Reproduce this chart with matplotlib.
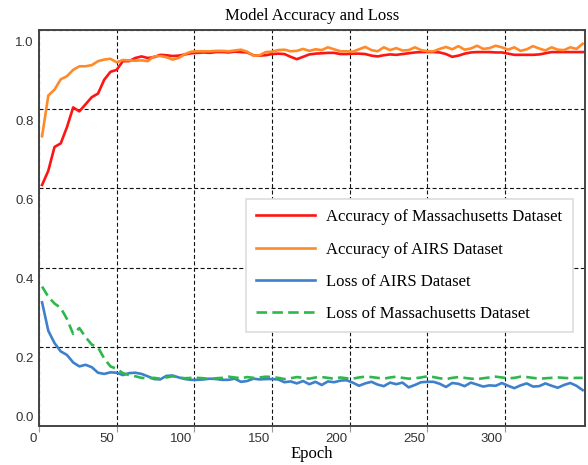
import numpy as np
import matplotlib
matplotlib.use("Agg")
import matplotlib.pyplot as plt
from matplotlib.transforms import ScaledTranslation

# values, one every 4 epochs starting at epoch 2
acc_mass = [
    0.609, 0.645, 0.705, 0.714, 0.755, 0.805, 0.795, 0.813, 0.831, 0.840,
    0.875, 0.895, 0.900, 0.922, 0.922, 0.930, 0.934, 0.930, 0.932, 0.938,
    0.937, 0.935, 0.936, 0.939, 0.942, 0.943, 0.944, 0.943, 0.945, 0.945,
    0.944, 0.946, 0.945, 0.944, 0.937, 0.936, 0.937, 0.940, 0.941, 0.940,
    0.933, 0.927, 0.933, 0.939, 0.941, 0.942, 0.943, 0.943, 0.940, 0.940,
    0.941, 0.941, 0.940, 0.936, 0.934, 0.937, 0.939, 0.938, 0.940, 0.942,
    0.944, 0.945, 0.945, 0.945, 0.944, 0.940, 0.933, 0.936, 0.941, 0.944,
    0.945, 0.945, 0.945, 0.944, 0.944, 0.941, 0.938, 0.938, 0.938, 0.938,
    0.939, 0.942, 0.945, 0.945, 0.945, 0.945, 0.945, 0.945,
]
acc_airs = [
    0.732, 0.835, 0.850, 0.876, 0.884, 0.900, 0.909, 0.909, 0.912, 0.922,
    0.926, 0.928, 0.919, 0.925, 0.924, 0.923, 0.924, 0.922, 0.934, 0.935,
    0.932, 0.926, 0.930, 0.940, 0.946, 0.947, 0.947, 0.947, 0.948, 0.948,
    0.947, 0.949, 0.951, 0.946, 0.936, 0.937, 0.945, 0.946, 0.950, 0.951,
    0.947, 0.948, 0.953, 0.948, 0.952, 0.950, 0.957, 0.952, 0.947, 0.947,
    0.946, 0.952, 0.958, 0.950, 0.947, 0.957, 0.950, 0.955, 0.949, 0.950,
    0.957, 0.950, 0.947, 0.947, 0.953, 0.958, 0.952, 0.960, 0.951, 0.954,
    0.961, 0.953, 0.955, 0.961, 0.957, 0.951, 0.957, 0.948, 0.952, 0.960,
    0.954, 0.949, 0.957, 0.951, 0.950, 0.957, 0.953, 0.966,
]
loss_airs = [
    0.312, 0.240, 0.209, 0.188, 0.179, 0.160, 0.150, 0.154, 0.148, 0.134,
    0.131, 0.135, 0.134, 0.128, 0.133, 0.134, 0.131, 0.125, 0.118, 0.117,
    0.126, 0.127, 0.122, 0.118, 0.116, 0.116, 0.117, 0.119, 0.118, 0.116,
    0.116, 0.119, 0.111, 0.113, 0.119, 0.117, 0.118, 0.118, 0.117, 0.110,
    0.112, 0.107, 0.113, 0.105, 0.111, 0.103, 0.112, 0.110, 0.114, 0.115,
    0.109, 0.101, 0.107, 0.111, 0.104, 0.100, 0.109, 0.105, 0.109, 0.097,
    0.103, 0.110, 0.111, 0.111, 0.106, 0.098, 0.108, 0.106, 0.100, 0.109,
    0.104, 0.099, 0.102, 0.101, 0.108, 0.101, 0.095, 0.102, 0.107, 0.099,
    0.100, 0.107, 0.101, 0.096, 0.103, 0.108, 0.101, 0.090,
]
loss_mass = [
    0.352, 0.326, 0.309, 0.298, 0.270, 0.232, 0.247, 0.224, 0.205, 0.198,
    0.170, 0.150, 0.144, 0.133, 0.128, 0.125, 0.121, 0.120, 0.121, 0.119,
    0.122, 0.125, 0.122, 0.120, 0.121, 0.121, 0.120, 0.118, 0.120, 0.121,
    0.124, 0.122, 0.120, 0.123, 0.121, 0.122, 0.124, 0.123, 0.121, 0.118,
    0.120, 0.123, 0.121, 0.119, 0.122, 0.123, 0.121, 0.119, 0.122, 0.120,
    0.119, 0.122, 0.124, 0.123, 0.121, 0.119, 0.122, 0.124, 0.121, 0.119,
    0.120, 0.122, 0.125, 0.123, 0.120, 0.118, 0.121, 0.123, 0.121, 0.119,
    0.118, 0.120, 0.122, 0.124, 0.122, 0.120, 0.121, 0.124, 0.123, 0.121,
    0.119, 0.120, 0.121, 0.122, 0.121, 0.120, 0.121, 0.121,
]
epochs = np.arange(2, 2 + 4 * len(acc_mass), 4)

x_ticks = [0, 50, 100, 150, 200, 250, 300]
y_ticks = [0.0, 0.2, 0.4, 0.6, 0.8, 1.0]
y_tick_labels = ["0.0", "0.2", "0.4", "0.6", "0.8", "1.0"]

serif = "Liberation Serif"
sans = "Liberation Sans"

fig = plt.figure(figsize=(5.88, 4.65), dpi=100)
ax = fig.add_axes([0.0663, 0.0845, 0.9286, 0.8503])

ax.plot(epochs, acc_mass, color="#ff1414", lw=1.9, label="Accuracy of Massachusetts Dataset", zorder=3)
ax.plot(epochs, acc_airs, color="#ff8a2a", lw=1.9, label="Accuracy of AIRS Dataset", zorder=3)
ax.plot(epochs, loss_airs, color="#3f80cc", lw=1.9, label="Loss of AIRS Dataset", zorder=3)
ax.plot(epochs, loss_mass, color="#2eb84c", lw=1.9, ls=(0, (4, 2)),
        label="Loss of Massachusetts Dataset", zorder=3)

ax.set_xlim(0, 351.5)
ax.set_ylim(0, 1.0)
ax.set_xticks(x_ticks)
ax.set_yticks(y_ticks)
ax.set_yticklabels(y_tick_labels)
ax.grid(True, color="#111111", lw=0.8, ls=(0, (3.6, 2.2)))

ax.tick_params(axis="x", direction="out", length=4, width=0.8, color="#999999",
               labelsize=9.5, labelcolor="#333333", pad=1)
ax.tick_params(axis="y", length=0, labelsize=9.5, labelcolor="#333333", pad=4)
for lbl in ax.get_xticklabels() + ax.get_yticklabels():
    lbl.set_fontfamily(sans)

# tick labels in the reference sit left of / below their grid lines
for tick in ax.xaxis.get_major_ticks():
    tick.label1.set_horizontalalignment("right")
    tick.label1.set_transform(tick.label1.get_transform()
                              + ScaledTranslation(-1.5 / 72, 0, fig.dpi_scale_trans))
for tick, v in zip(ax.yaxis.get_major_ticks(), y_ticks):
    dy = 6.5 if v == 0 else -8
    tick.label1.set_transform(tick.label1.get_transform()
                              + ScaledTranslation(0, dy / 72, fig.dpi_scale_trans))

for s in ax.spines.values():
    s.set_color("#444444")
    s.set_linewidth(1.4)
    s.set_zorder(4)

ax.set_title("Model Accuracy and Loss", fontfamily=serif, fontsize=12, pad=7.5)
ax.set_xlabel("Epoch", fontfamily=serif, fontsize=12, labelpad=1)

leg = ax.legend(loc="upper left", bbox_to_anchor=(0.380, 0.5726), borderaxespad=0,
                prop={"family": serif, "size": 12}, fancybox=False, framealpha=1,
                edgecolor="#dddddd", handlelength=3.5, handletextpad=0.7,
                labelspacing=0.98, borderpad=0.6)
leg.get_frame().set_linewidth(1.2)
leg.set_zorder(5)

fig.savefig("out.png", dpi=100)
